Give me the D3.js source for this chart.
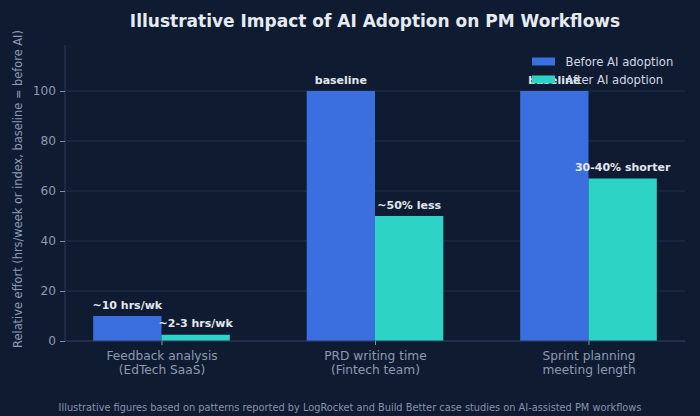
<!DOCTYPE html>
<html><head><meta charset="utf-8">
<script src="https://cdn.jsdelivr.net/npm/d3@7"></script>
<style>html,body{margin:0;padding:0;background:#0f1b30;}svg{display:block;}</style>
</head><body>
<svg id="chart" width="700" height="416"></svg>
<script>
const categories = ["Feedback analysis\n(EdTech SaaS)", "PRD writing time\n(Fintech team)", "Sprint planning\nmeeting length"];
const seriesNames = ["Before AI adoption", "After AI adoption"];
const beforeValues = [10, 100, 100];
const afterValues = [2.5, 50, 65];
const beforeLabels = ["~10 hrs/wk", "baseline", "baseline"];
const afterLabels = ["~2-3 hrs/wk", "~50% less", "30-40% shorter"];
const yTicks = [0, 20, 40, 60, 80, 100];
const title = "Illustrative Impact of AI Adoption on PM Workflows";
const yLabel = "Relative effort (hrs/week or index, baseline = before AI)";
const footer = "Illustrative figures based on patterns reported by LogRocket and Build Better case studies on AI-assisted PM workflows";

const colors = ["#3b6fe0", "#2dd4c5"];
const W = 700, H = 416;
const m = {left: 65, right: 15, top: 45, bottom: 75};
const svg = d3.select("#chart");
svg.append("rect").attr("width", W).attr("height", H).attr("fill", "#0f1b30");

const barW = 0.32;
const x = d3.scaleLinear().domain([-0.452, 2.452]).range([m.left, W - m.right]);
const y = d3.scaleLinear().domain([0, 118.4]).range([H - m.bottom, m.top]);
const font = "DejaVu Sans, Verdana, sans-serif";

// grid
const g = svg.append("g");
g.selectAll("line.grid").data(yTicks).join("line")
  .attr("x1", m.left).attr("x2", W - m.right)
  .attr("y1", d => y(d)).attr("y2", d => y(d))
  .attr("stroke", "#233150").attr("stroke-width", 1);

// bars
const idx = d3.range(categories.length);
g.selectAll("rect.before").data(idx).join("rect")
  .attr("x", i => x(i - barW)).attr("width", i => x(i) - x(i - barW))
  .attr("y", i => y(beforeValues[i])).attr("height", i => y(0) - y(beforeValues[i]))
  .attr("fill", colors[0]);
g.selectAll("rect.after").data(idx).join("rect")
  .attr("x", i => x(i)).attr("width", i => x(i + barW) - x(i))
  .attr("y", i => y(afterValues[i])).attr("height", i => y(0) - y(afterValues[i]))
  .attr("fill", colors[1]);

// axes
const yAxis = svg.append("g").attr("transform", `translate(${m.left},0)`)
  .call(d3.axisLeft(y).tickValues(yTicks).tickSize(5).tickPadding(4));
yAxis.select(".domain").attr("stroke", "#2a3a58").attr("d", `M0,${y(0)}V${m.top}`);
yAxis.selectAll(".tick line").attr("stroke", "#7f8fa9");
yAxis.selectAll(".tick text").attr("fill", "#8c9bb3").attr("font-family", font).attr("font-size", "12.2px");

const xAxis = svg.append("g").attr("transform", `translate(0,${y(0)})`)
  .call(d3.axisBottom(x).tickValues(idx).tickSize(4).tickFormat(""));
xAxis.select(".domain").attr("stroke", "#2a3a58").attr("d", `M${m.left},0H${W - m.right}`);
xAxis.selectAll(".tick line").attr("stroke", "#7f8fa9");
xAxis.selectAll(".tick").each(function(d) {
  const lines = categories[d].split("\n");
  const t = d3.select(this).append("text").attr("fill", "#8c9bb3")
    .attr("font-family", font).attr("font-size", "12.2px").attr("text-anchor", "middle");
  lines.forEach((l, k) => t.append("tspan").attr("x", 0).attr("y", 19 + k * 14).text(l));
});

// value labels
const lab = svg.append("g").attr("font-family", font).attr("font-size", "11px")
  .attr("font-weight", "bold").attr("fill", "#e2e8f0").attr("text-anchor", "middle");
lab.selectAll("text.b").data(idx).join("text")
  .attr("x", i => x(i - barW / 2)).attr("y", i => y(beforeValues[i]) - 7.5).text(i => beforeLabels[i]);
lab.selectAll("text.a").data(idx).join("text")
  .attr("x", i => x(i + barW / 2)).attr("y", i => y(afterValues[i]) - 7.5).text(i => afterLabels[i]);

// legend
const leg = svg.append("g").attr("transform", "translate(532,57.5)");
seriesNames.forEach((s, k) => {
  leg.append("rect").attr("x", 0).attr("y", k * 18).attr("width", 23).attr("height", 8).attr("fill", colors[k]);
  leg.append("text").attr("x", 33.5).attr("y", k * 18 + 8.2).attr("fill", "#cfd8e6")
    .attr("font-family", font).attr("font-size", "11.6px").text(s);
});

// title
svg.append("text").attr("x", (m.left + W - m.right) / 2).attr("y", 27)
  .attr("text-anchor", "middle").attr("font-family", font).attr("font-size", "17px")
  .attr("font-weight", "bold").attr("fill", "#e6ebf3").text(title);

// y label
svg.append("text").attr("transform", `translate(21.5,${(y(0) + 37) / 2}) rotate(-90)`)
  .attr("text-anchor", "middle").attr("font-family", font).attr("font-size", "11.4px")
  .attr("fill", "#8c9bb3").text(yLabel);

// footer
svg.append("text").attr("x", W / 2).attr("y", 411).attr("text-anchor", "middle")
  .attr("font-family", font).attr("font-size", "9.8px").attr("fill", "#8594ad").text(footer);
</script>
</body></html>
